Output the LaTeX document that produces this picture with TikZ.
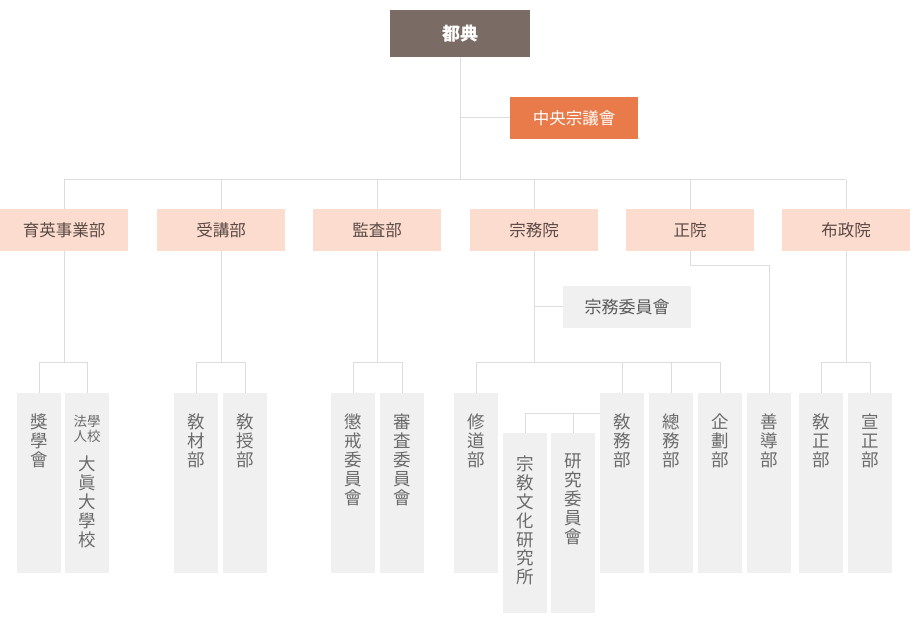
\documentclass[tikz,border=0pt]{standalone}
\usepackage{fontspec}
\setmainfont{Noto Sans CJK KR}
\definecolor{topfill}{HTML}{7A6C64}
\definecolor{orgfill}{HTML}{E97B4A}
\definecolor{peach}{HTML}{FDDCD0}
\definecolor{peachtext}{HTML}{5A4A44}
\definecolor{leaffill}{HTML}{F0F0F0}
\definecolor{leaftext}{HTML}{6A6A6A}
\definecolor{linecol}{HTML}{DDDDDD}
\newcommand\leafcol[2][21pt]{\parbox[t][180pt][t]{44pt}{\centering\vspace*{#1}\fontsize{17.5}{18.8}\selectfont #2\par}}
\begin{document}
\begin{tikzpicture}[x=1pt,y=-1pt,
  topbox/.style={fill=topfill,text=white,font=\fontsize{18}{20}\selectfont\bfseries,minimum width=140pt,minimum height=47pt,inner sep=0},
  orgbox/.style={fill=orgfill,text=white,font=\fontsize{16.5}{18}\selectfont,minimum width=128pt,minimum height=42pt,inner sep=0},
  midbox/.style={fill=peach,text=peachtext,font=\fontsize{16.5}{18}\selectfont,minimum width=128pt,minimum height=42pt,inner sep=0},
  combox/.style={fill=leaffill,text=leaftext!85!black,font=\fontsize{17}{18}\selectfont,minimum width=128pt,minimum height=42pt,inner sep=0},
  leaf/.style={fill=leaffill,text=leaftext,inner sep=0,anchor=north},
  conn/.style={draw=linecol,line width=1pt}]
\useasboundingbox (0,0) rectangle (920,617);
% top
\node[topbox] (dojeon) at (460,33.5) {都典};
\node[orgbox] (council) at (574,118) {中央宗議會};
% second level
\node[midbox] (b1) at (64,230) {育英事業部};
\node[midbox] (b2) at (221,230) {受講部};
\node[midbox] (b3) at (377,230) {監査部};
\node[midbox] (b4) at (534,230) {宗務院};
\node[midbox] (b5) at (690,230) {正院};
\node[midbox] (b6) at (846,230) {布政院};
\node[combox] (com) at (627,307) {宗務委員會};
% leaves
\node[leaf] (l1) at (39,393) {\leafcol{獎\\學\\會}};
\node[leaf] (l2) at (87,393) {\leafcol[22pt]{{\fontsize{13.5}{14.5}\selectfont 法學\\人校\par}\vspace{11pt}大\\眞\\大\\學\\校}};
\node[leaf] (l3) at (196,393) {\leafcol{敎\\材\\部}};
\node[leaf] (l4) at (245,393) {\leafcol{敎\\授\\部}};
\node[leaf] (l5) at (353,393) {\leafcol{懲\\戒\\委\\員\\會}};
\node[leaf] (l6) at (402,393) {\leafcol{審\\査\\委\\員\\會}};
\node[leaf] (l7) at (476,393) {\leafcol{修\\道\\部}};
\node[leaf] (l8) at (525,433) {\leafcol[23pt]{宗\\敎\\文\\化\\研\\究\\所}};
\node[leaf] (l9) at (573,433) {\leafcol{研\\究\\委\\員\\會}};
\node[leaf] (l10) at (622,393) {\leafcol{敎\\務\\部}};
\node[leaf] (l11) at (671,393) {\leafcol{總\\務\\部}};
\node[leaf] (l12) at (720,393) {\leafcol{企\\劃\\部}};
\node[leaf] (l13) at (769,393) {\leafcol{善\\導\\部}};
\node[leaf] (l14) at (821,393) {\leafcol{敎\\正\\部}};
\node[leaf] (l15) at (870,393) {\leafcol{宣\\正\\部}};
% connectors: top
\coordinate (hub) at (460,180);
\draw[conn] (dojeon.south) -- (hub);
\draw[conn] (dojeon.south |- council.west) -- (council.west);
\draw[conn] (b1.north |- hub) -- (b6.north |- hub);
\foreach \b in {b1,b2,b3,b4,b5,b6} \draw[conn] (\b.north |- hub) -- (\b.north);
% level 3 branches
\coordinate (jn) at (0,362);
\draw[conn] (b1.south) -- (b1.south |- jn);
\draw[conn] (l1.north |- jn) -- (l2.north |- jn);
\draw[conn] (l1.north |- jn) -- (l1.north);
\draw[conn] (l2.north |- jn) -- (l2.north);
\draw[conn] (b2.south) -- (b2.south |- jn);
\draw[conn] (l3.north |- jn) -- (l4.north |- jn);
\draw[conn] (l3.north |- jn) -- (l3.north);
\draw[conn] (l4.north |- jn) -- (l4.north);
\draw[conn] (b3.south) -- (b3.south |- jn);
\draw[conn] (l5.north |- jn) -- (l6.north |- jn);
\draw[conn] (l5.north |- jn) -- (l5.north);
\draw[conn] (l6.north |- jn) -- (l6.north);
\draw[conn] (b4.south) -- (b4.south |- jn);
\draw[conn] (b4.south |- com.west) -- (com.west);
\draw[conn] (l7.north |- jn) -- (l12.north |- jn);
\foreach \l in {l7,l10,l11,l12} \draw[conn] (\l.north |- jn) -- (\l.north);
\coordinate (jr) at (0,413);
\draw[conn] (l10.west |- jr) -- (l8.north |- jr);
\draw[conn] (l8.north |- jr) -- (l8.north);
\draw[conn] (l9.north |- jr) -- (l9.north);
\draw[conn] (b5.south) -- (b5.south |- 0,266) -- (l13.north |- 0,266) -- (l13.north);
\draw[conn] (b6.south) -- (b6.south |- jn);
\draw[conn] (l14.north |- jn) -- (l15.north |- jn);
\draw[conn] (l14.north |- jn) -- (l14.north);
\draw[conn] (l15.north |- jn) -- (l15.north);
\end{tikzpicture}
\end{document}
